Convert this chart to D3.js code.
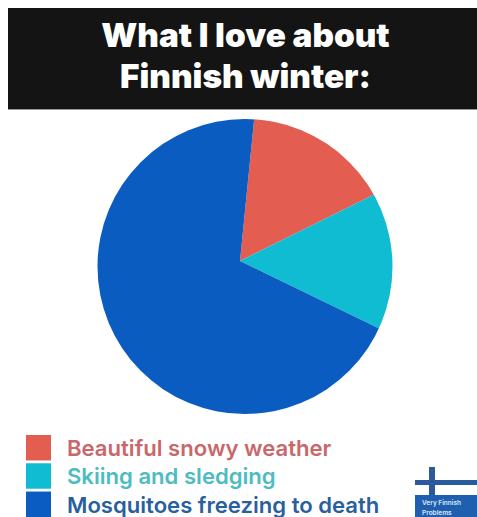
<!DOCTYPE html>
<html>
<head>
<meta charset="utf-8">
<script src="https://cdn.jsdelivr.net/npm/d3@7"></script>
<style>
html,body{margin:0;padding:0;background:#fff;overflow:hidden}
svg{display:block}
text{font-family:Inter,Roboto,"Liberation Sans",sans-serif}
</style>
</head>
<body>
<svg id="chart" width="477" height="517"></svg>
<script>
const titleLines = ["What I love about", "Finnish winter:"];
const categories = ["Beautiful snowy weather", "Skiing and sledging", "Mosquitoes freezing to death"];
const shares = [16.1, 14.5, 69.4];
const sliceColors = ["#e35d50", "#10bcd2", "#0a5cc0"];
const labelColors = ["#c9686a", "#4dbcc0", "#2a5f9e"];
const badgeLines = ["Very Finnish", "Problems"];

const svg = d3.select("#chart");

// Title banner
svg.append("rect").attr("x", 8).attr("y", 8).attr("width", 469).attr("height", 101).attr("fill", "#141414");
svg.append("rect").attr("x", 8).attr("y", 109).attr("width", 469).attr("height", 1).attr("fill", "#999");
svg.append("g").selectAll("text").data(titleLines).join("text")
  .attr("x", 245.5).attr("y", (d, i) => 47 + i * 41)
  .attr("text-anchor", "middle").attr("fill", "#fff")
  .attr("font-size", 33.3).attr("font-weight", 900).text(d => d);

// The slices meet at a hub set up and left of the disc's centre,
// so the wedges are cut from a larger pie by a circular clip.
svg.append("defs").append("clipPath").attr("id", "disc")
  .append("circle").attr("cx", 245).attr("cy", 266.5).attr("r", 147.5);
const startAngle = 5.7 * Math.PI / 180;
const pieGen = d3.pie().sort(null).value(d => d).startAngle(startAngle).endAngle(startAngle + 2 * Math.PI);
const arcGen = d3.arc().innerRadius(0).outerRadius(190);
svg.append("g").attr("clip-path", "url(#disc)")
  .append("g").attr("transform", "translate(240,261)")
  .selectAll("path").data(pieGen(shares)).join("path")
  .attr("d", arcGen).attr("fill", (d, i) => sliceColors[i]);

// Legend
const y = d3.scaleBand().domain(categories).range([435, 517]).paddingInner(0.1);
const legend = svg.append("g").selectAll("g").data(categories).join("g");
legend.append("rect").attr("x", 26).attr("y", d => y(d)).attr("width", 25).attr("height", y.bandwidth())
  .attr("fill", (d, i) => sliceColors[i]);
legend.append("text").attr("x", 67).attr("y", d => y(d) + 21)
  .attr("font-size", 22.1).attr("font-weight", 600)
  .attr("fill", (d, i) => labelColors[i]).text(d => d);

// Corner badge with the flag cross
const badge = svg.append("g");
badge.append("rect").attr("x", 415).attr("y", 480).attr("width", 62).attr("height", 5).attr("fill", "#2a5a9c");
badge.append("rect").attr("x", 429).attr("y", 467).attr("width", 6).attr("height", 28).attr("fill", "#2a5a9c");
badge.append("rect").attr("x", 415).attr("y", 495).attr("width", 62).attr("height", 22).attr("fill", "#1f5fb0");
badge.selectAll("text").data(badgeLines).join("text")
  .attr("x", 422).attr("y", (d, i) => 505 + i * 10).attr("fill", "#dfe8f5")
  .attr("font-size", 6.5).attr("font-weight", 600).text(d => d);
</script>
</body>
</html>
